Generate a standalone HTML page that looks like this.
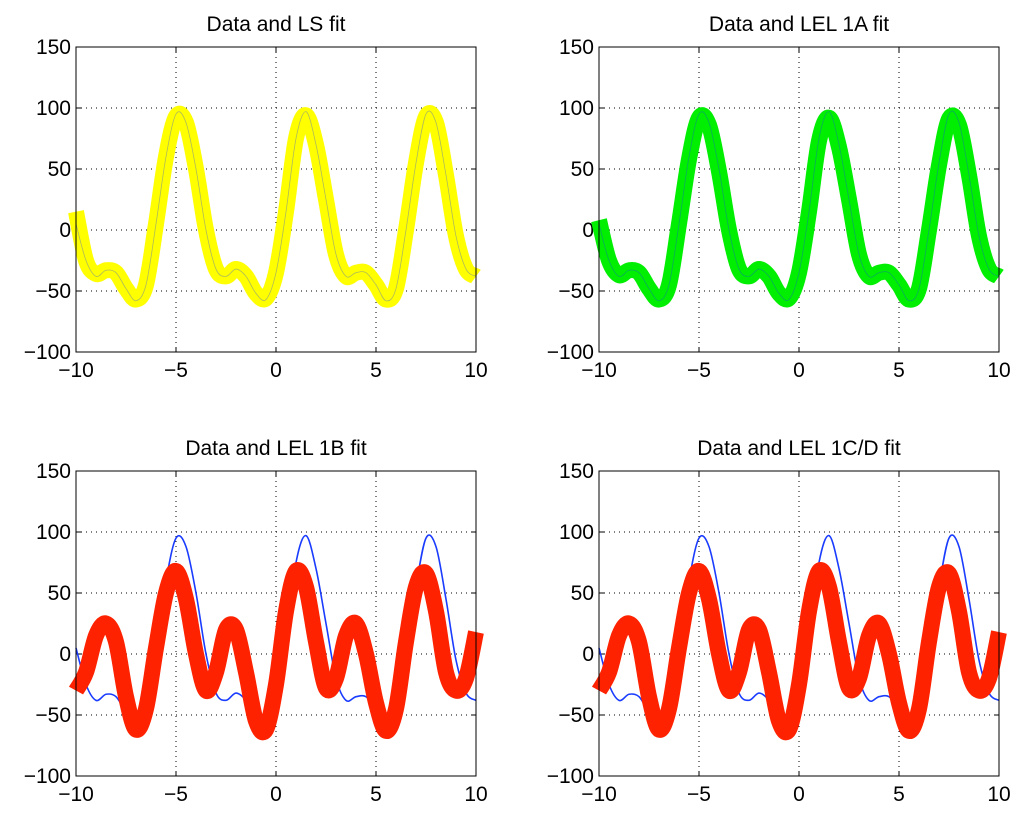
<!DOCTYPE html>
<html><head><meta charset="utf-8"><style>
body{margin:0;background:#fff}
svg text{font-family:"Liberation Sans",Arial,sans-serif;fill:#000}
</style></head><body>
<svg id="fig" width="1024" height="818" viewBox="0 0 1024 818" xmlns="http://www.w3.org/2000/svg"></svg>
<script>
const xs=[-10,-9.5,-9,-8.5,-8,-7.5,-7,-6.5,-6,-5.5,-5,-4.5,-4,-3.5,-3,-2.5,-2,-1.5,-1,-0.5,0,0.5,1,1.5,2,2.5,3,3.5,4,4.5,5,5.5,6,6.5,7,7.5,8,8.5,9,9.5,10];
const dataVals=[5,-25,-38,-33,-35,-48,-58,-45,5,60,95,88,50,0,-32,-38,-32,-38,-52,-57,-35,15,75,97,70,25,-20,-38,-35,-35,-45,-58,-48,0,55,95,88,45,-5,-32,-38];
const lsFit=[15,-25,-36,-33,-35,-48,-57,-45,5,60,93,88,50,0,-32,-38,-32,-38,-52,-56,-35,15,75,94,70,25,-20,-38,-35,-35,-45,-57,-48,0,55,93,88,45,-5,-32,-38];
const lel1aFit=[8,-25,-37,-33,-35,-48,-57,-45,5,58,92,86,48,0,-32,-38,-32,-38,-52,-56,-35,15,73,92,68,25,-20,-38,-35,-35,-45,-57,-48,0,53,91,86,45,-5,-32,-38];
const lel1bFit=[-30,-15,15,25,10,-35,-62,-45,5,50,68,45,0,-30,-15,20,20,-15,-55,-62,-25,35,68,55,10,-28,-20,15,25,0,-40,-63,-45,10,55,66,35,-15,-30,-20,18];
const xTicks=[-10,-5,0,5,10];
const yTicks=[-100,-50,0,50,100,150];
const panels=[
 {name:'ls',title:'Data and LS fit',x0:76,x1:476,yt:47,yb:352,fit:lsFit,color:'#ffff00'},
 {name:'lel-1a',title:'Data and LEL 1A fit',x0:599,x1:999,yt:47,yb:352,fit:lel1aFit,color:'#00ee00'},
 {name:'lel-1b',title:'Data and LEL 1B fit',x0:76,x1:476,yt:471,yb:776,fit:lel1bFit,color:'#ff2200'},
 {name:'lel-1cd',title:'Data and LEL 1C/D fit',x0:599,x1:999,yt:471,yb:776,fit:lel1bFit,color:'#ff2200'}
];
const NS='http://www.w3.org/2000/svg';
const svg=document.getElementById('fig');
function mk(t,a,p){const e=document.createElementNS(NS,t);for(const k in a)e.setAttribute(k,a[k]);(p||svg).appendChild(e);return e;}
function lbl(v){return v<0?'\u2212'+Math.abs(v):String(v);}
function path(X,Y){let d='M'+X[0]+','+Y[0];for(let i=0;i<X.length-1;i++){const p0=i?i-1:i,p3=i+2<X.length?i+2:i+1;
 const c1x=X[i]+(X[i+1]-X[p0])/6,c1y=Y[i]+(Y[i+1]-Y[p0])/6,c2x=X[i+1]-(X[p3]-X[i])/6,c2y=Y[i+1]-(Y[p3]-Y[i])/6;
 d+=' C'+c1x+','+c1y+' '+c2x+','+c2y+' '+X[i+1]+','+Y[i+1];}return d;}
panels.forEach(p=>{
 const g=mk('g',{});
 
 
 const sx=v=>p.x0+(v+10)/20*(p.x1-p.x0);
 const sy=v=>p.yb-(v+100)/250*(p.yb-p.yt);
 mk('rect',{x:p.x0,y:p.yt,width:p.x1-p.x0,height:p.yb-p.yt,fill:'#fff'},g);
 xTicks.forEach(t=>{const x=sx(t);
  mk('line',{x1:x,x2:x,y1:p.yt,y2:p.yb,stroke:'#000','stroke-width':1,'stroke-dasharray':'1,4'},g);
  mk('line',{x1:x,x2:x,y1:p.yb,y2:p.yb-5,stroke:'#000'},g);mk('line',{x1:x,x2:x,y1:p.yt,y2:p.yt+5,stroke:'#000'},g);
  const tx=mk('text',{x:x,y:p.yb+25,'text-anchor':'middle','font-size':21},g);tx.textContent=lbl(t);
  });
 yTicks.forEach(t=>{const y=sy(t);
  mk('line',{x1:p.x0,x2:p.x1,y1:y,y2:y,stroke:'#000','stroke-width':1,'stroke-dasharray':'1,4'},g);
  mk('line',{x1:p.x0,x2:p.x0+5,y1:y,y2:y,stroke:'#000'},g);mk('line',{x1:p.x1,x2:p.x1-5,y1:y,y2:y,stroke:'#000'},g);
  const tx=mk('text',{x:p.x0-5,y:y+7,'text-anchor':'end','font-size':21},g);tx.textContent=lbl(t);
  });
 const X=xs.map(sx);
 const top=(p.name==='ls'||p.name==='lel-1a');
 let dp;
 if(top){
  dp=mk('path',{d:path(X,dataVals.map(sy)),fill:'none',stroke:'#1a3cff','stroke-width':1.5},g);
 }
 const fitPath=mk('path',{d:path(X,p.fit.map(sy)),fill:'none',stroke:p.color,'stroke-width':16,'stroke-linejoin':'round','stroke-linecap':'butt'},g);
 
 if(top){
  const d2=mk('path',{d:path(X,dataVals.map(sy)),fill:'none',stroke:'#1a3cff','stroke-width':0.8,'stroke-opacity':0.35},g);
  }
 else{
  dp=mk('path',{d:path(X,dataVals.map(sy)),fill:'none',stroke:'#1a3cff','stroke-width':1.6},g);
  
  g.appendChild(fitPath);
 }
 mk('rect',{x:p.x0,y:p.yt,width:p.x1-p.x0,height:p.yb-p.yt,fill:'none',stroke:'#000','stroke-width':1},g);
 const tt=mk('text',{x:(p.x0+p.x1)/2,y:p.yt-16,'text-anchor':'middle','font-size':21},g);tt.textContent=p.title;
 
});
</script>
</body></html>
